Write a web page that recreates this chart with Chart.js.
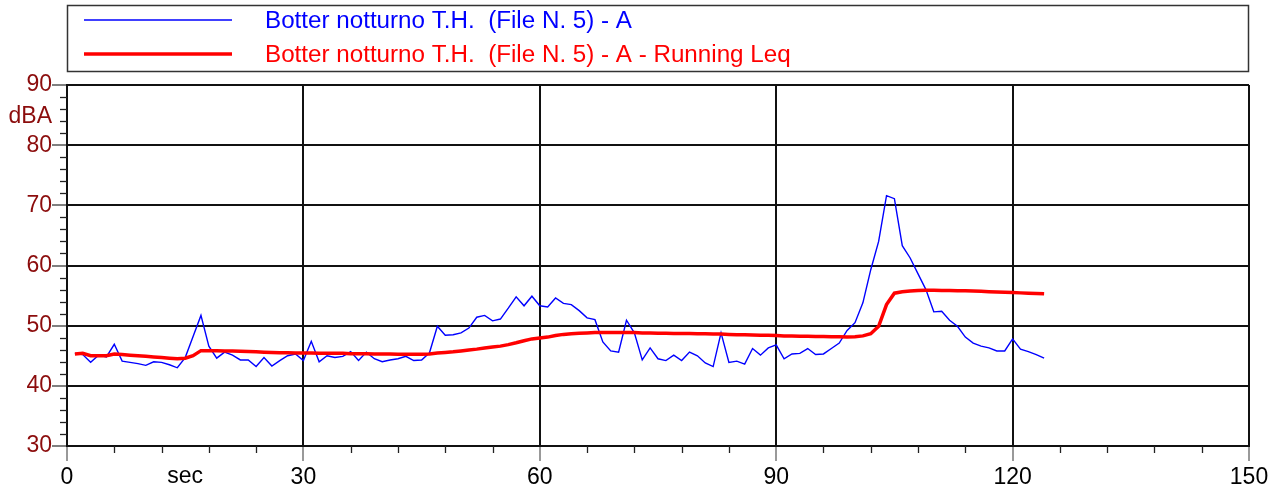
<!DOCTYPE html>
<html><head><meta charset="utf-8">
<script src="https://cdn.jsdelivr.net/npm/chart.js@4.4.1/dist/chart.umd.min.js"></script>
<style>html,body{margin:0;padding:0;background:#fff;} canvas{display:block;}</style>
</head><body>
<canvas id="c" width="1280" height="492"></canvas>
<script>
const seconds = [1,2,3,4,5,6,7,8,9,10,11,12,13,14,15,16,17,18,19,20,21,22,23,24,25,26,27,28,29,30,
  31,32,33,34,35,36,37,38,39,40,41,42,43,44,45,46,47,48,49,50,51,52,53,54,55,56,57,58,59,60,
  61,62,63,64,65,66,67,68,69,70,71,72,73,74,75,76,77,78,79,80,81,82,83,84,85,86,87,88,89,90,
  91,92,93,94,95,96,97,98,99,100,101,102,103,104,105,106,107,108,109,110,111,112,113,114,115,116,117,118,119,120,
  121,122,123,124];
const levelA = [45.4,45.2,43.9,45.1,44.8,46.9,44.1,43.9,43.7,43.4,44.0,43.9,43.5,43.0,44.7,48.2,51.7,46.6,44.6,45.6,
  45.1,44.3,44.3,43.2,44.7,43.3,44.2,45.0,45.3,44.2,47.4,44.0,45.0,44.7,44.9,45.7,44.2,45.6,44.5,44.0,
  44.3,44.5,44.9,44.2,44.3,45.5,49.9,48.4,48.5,48.8,49.6,51.4,51.7,50.8,51.1,52.9,54.8,53.3,54.9,53.3,
  53.1,54.6,53.7,53.5,52.5,51.3,51.0,47.3,45.8,45.6,50.9,48.8,44.3,46.3,44.5,44.2,45.1,44.2,45.6,45.0,
  43.8,43.2,48.8,43.9,44.1,43.6,46.2,45.1,46.3,46.8,44.5,45.3,45.4,46.2,45.2,45.3,46.2,47.1,49.2,50.5,
  53.8,59.3,64.0,71.6,71.1,63.3,61.25,58.6,56.0,52.3,52.4,50.9,49.9,48.1,47.1,46.6,46.3,45.8,45.8,47.8,
  46.1,45.7,45.2,44.6];
const runningLeq = [45.3,45.4,45.0,45.0,45.0,45.3,45.2,45.1,45.0,44.9,44.8,44.7,44.6,44.5,44.6,45.0,45.85,45.85,45.85,45.8,
  45.8,45.75,45.7,45.65,45.6,45.55,45.5,45.5,45.45,45.45,45.45,45.4,45.4,45.4,45.4,45.35,45.35,45.35,45.3,45.3,
  45.3,45.25,45.25,45.25,45.25,45.3,45.45,45.55,45.65,45.8,45.95,46.1,46.3,46.45,46.6,46.85,47.15,47.5,47.8,47.95,
  48.1,48.35,48.55,48.65,48.75,48.8,48.85,48.85,48.85,48.85,48.85,48.85,48.8,48.8,48.75,48.75,48.7,48.7,48.7,48.65,
  48.65,48.6,48.6,48.55,48.5,48.5,48.45,48.4,48.4,48.35,48.3,48.3,48.25,48.25,48.2,48.2,48.15,48.15,48.1,48.15,
  48.3,48.65,49.9,53.5,55.4,55.65,55.75,55.85,55.9,55.9,55.85,55.85,55.8,55.8,55.75,55.7,55.65,55.6,55.55,55.5,
  55.45,55.4,55.35,55.3];
const seriesLabels = ['Botter notturno T.H.  (File N. 5) - A', 'Botter notturno T.H.  (File N. 5) - A - Running Leq'];
const seriesColors = ['#0000ff', '#ff0000'];
const xMin = 0, xMax = 150, xMajor = 30, xMinor = 6;
const yMin = 30, yMax = 90, yMajor = 10, yMinor = 2;
const xUnit = 'sec', xUnitAt = 15;
const yUnit = 'dBA', yUnitAt = 84.7;

const FONT = "'Liberation Sans', Arial, sans-serif";
const RED_DARK = '#8b0c0c';

const extras = {
  id: 'extras',
  afterDraw(chart) {
    const ctx = chart.ctx, ca = chart.chartArea;
    const xs = chart.scales.x, ys = chart.scales.y;
    ctx.save();
    // minor ticks
    ctx.strokeStyle = '#222'; ctx.lineWidth = 1.3;
    for (let v = xMin; v <= xMax; v += xMinor) {
      if (v % xMajor === 0) continue;
      const px = Math.round(xs.getPixelForValue(v)) + 0.5;
      ctx.beginPath(); ctx.moveTo(px, ca.bottom); ctx.lineTo(px, ca.bottom + 7); ctx.stroke();
    }
    for (let v = yMin; v <= yMax; v += yMinor) {
      if (v % yMajor === 0) continue;
      const py = Math.round(ys.getPixelForValue(v)) + 0.5;
      ctx.beginPath(); ctx.moveTo(ca.left - 7, py); ctx.lineTo(ca.left, py); ctx.stroke();
    }
    // unit labels
    ctx.font = '23px ' + FONT;
    ctx.fillStyle = '#000'; ctx.textAlign = 'center'; ctx.textBaseline = 'alphabetic';
    ctx.fillText(xUnit, xs.getPixelForValue(xUnitAt), 483);
    ctx.fillStyle = RED_DARK; ctx.textAlign = 'right'; ctx.textBaseline = 'middle';
    ctx.fillText(yUnit, ca.left - 15, ys.getPixelForValue(yUnitAt));
    // legend
    ctx.strokeStyle = '#333'; ctx.lineWidth = 1.5;
    ctx.strokeRect(67.5, 5.5, 1181, 66);
    const rows = [20, 54], widths = [1.5, 3.5];
    ctx.textAlign = 'left'; ctx.textBaseline = 'middle';
    ctx.font = '24.2px ' + FONT;
    for (let i = 0; i < 2; i++) {
      ctx.strokeStyle = seriesColors[i]; ctx.lineWidth = widths[i];
      ctx.beginPath(); ctx.moveTo(84, rows[i]); ctx.lineTo(232, rows[i]); ctx.stroke();
      ctx.fillStyle = seriesColors[i];
      ctx.fillText(seriesLabels[i], 265, rows[i] + 1);
    }
    ctx.restore();
  }
};

new Chart(document.getElementById('c'), {
  type: 'line',
  data: {
    datasets: [
      { label: seriesLabels[0], data: seconds.map((s, i) => ({x: s, y: levelA[i]})),
        borderColor: seriesColors[0], borderWidth: 1.4, pointRadius: 0, tension: 0, fill: false, order: 1 },
      { label: seriesLabels[1], data: seconds.map((s, i) => ({x: s, y: runningLeq[i]})),
        borderColor: seriesColors[1], borderWidth: 3.5, pointRadius: 0, tension: 0, fill: false, order: 0 }
    ]
  },
  options: {
    responsive: false, animation: false, devicePixelRatio: 1,
    layout: { padding: { top: 85, right: 31, left: 0, bottom: 0 } },
    plugins: { legend: { display: false }, tooltip: { enabled: false } },
    scales: {
      x: {
        type: 'linear', min: xMin, max: xMax,
        afterFit(s) { s.height = 46; },
        ticks: { stepSize: xMajor, autoSkip: false, maxRotation: 0, color: '#000', padding: 3,
                 font: { family: FONT, size: 23 } },
        grid: { color: '#111', lineWidth: 2, tickLength: 15, tickColor: '#777', tickWidth: 1.5 },
        border: { color: '#111', width: 2 }
      },
      y: {
        min: yMin, max: yMax,
        afterFit(s) { s.width = 67; },
        ticks: { stepSize: yMajor, color: RED_DARK, padding: 0, font: { family: FONT, size: 23 } },
        grid: { color: '#111', lineWidth: 2, tickLength: 15, tickColor: '#555', tickWidth: 1.5 },
        border: { color: '#111', width: 2 }
      }
    }
  },
  plugins: [extras]
});
</script>
</body></html>
